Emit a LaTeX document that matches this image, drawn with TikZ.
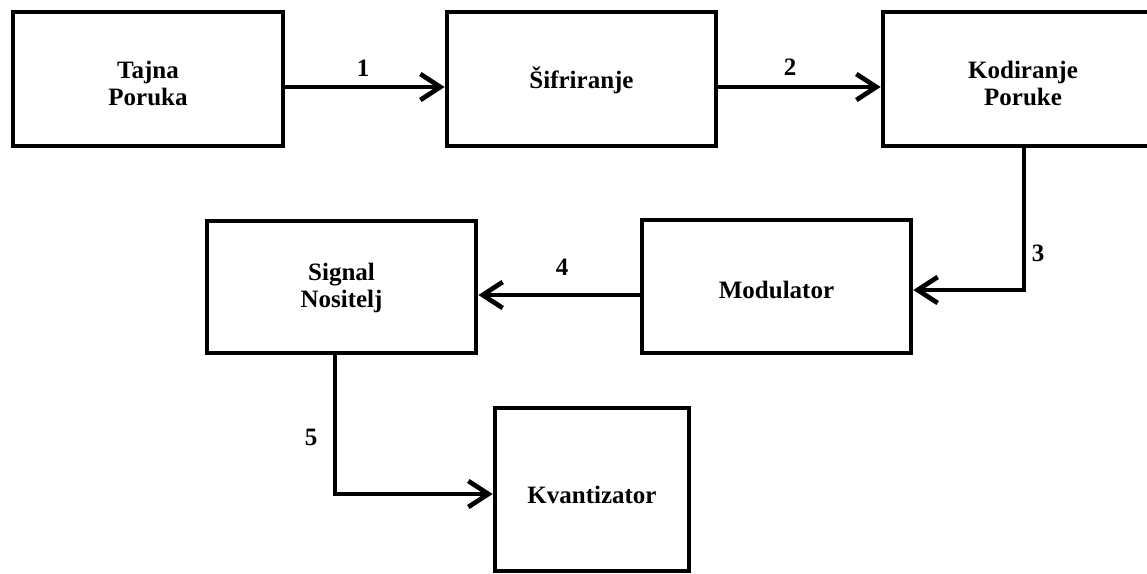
\documentclass[tikz,border=0pt]{standalone}
\usepackage{fontspec}
\setmainfont{Liberation Serif}
\usetikzlibrary{arrows.meta}
\newcommand{\tallrule}[1]{\rule{0pt}{#1}}
\begin{document}
\begin{tikzpicture}[x=1pt,y=-1pt,
  txt/.style={font=\fontsize{25}{27}\selectfont\bfseries},
  blk/.style={draw, line width=4.7pt, inner sep=0pt, align=center, txt},
  conn/.style={line width=4.7pt, -{Straight Barb[length=20pt,width=26pt]}},
  num/.style={txt, inner sep=0pt}]
\useasboundingbox (0,0) rectangle (1147,573);
\clip (0,0) rectangle (1147,573);
\fill[white] (0,0) rectangle (1147,573);
\node[blk, minimum width=270pt, minimum height=134pt] (tp) at (148,79) {\tallrule{27pt}Tajna\\Poruka};
\node[blk, minimum width=269pt, minimum height=134pt] (sf) at (581.5,79) {\tallrule{24pt}Šifriranje};
\node[blk, minimum width=280pt, minimum height=134pt] (kp) at (1023,79) {\tallrule{27pt}Kodiranje\\Poruke};
\node[blk, minimum width=269pt, minimum height=133pt] (md) at (776.5,286.5) {\tallrule{24pt}Modulator};
\node[blk, minimum width=269pt, minimum height=132pt] (sn) at (341.5,287) {\tallrule{20pt}Signal\\Nositelj};
\node[blk, minimum width=194pt, minimum height=163pt] (kv) at (592,489.5) {\tallrule{28pt}Kvantizator};
\draw[conn] ([yshift=-8pt]tp.east) -- ([yshift=-8pt]sf.west);
\draw[conn] ([yshift=-8pt]sf.east) -- ([yshift=-8pt]kp.west);
\draw[conn] ([xshift=1pt]kp.south) |- ([yshift=-3.5pt]md.east);
\draw[conn] ([yshift=-8.5pt]md.west) -- ([yshift=-8pt]sn.east);
\draw[conn] ([xshift=-6.5pt]sn.south) |- ([yshift=-4.5pt]kv.west);
\node[num] (n1) at (363,68) {1};
\node[num] (n2) at (790,67) {2};
\node[num] (n3) at (1038,253) {3};
\node[num] (n4) at (562,267) {4};
\node[num] (n5) at (311,437) {5};
\end{tikzpicture}
\end{document}
